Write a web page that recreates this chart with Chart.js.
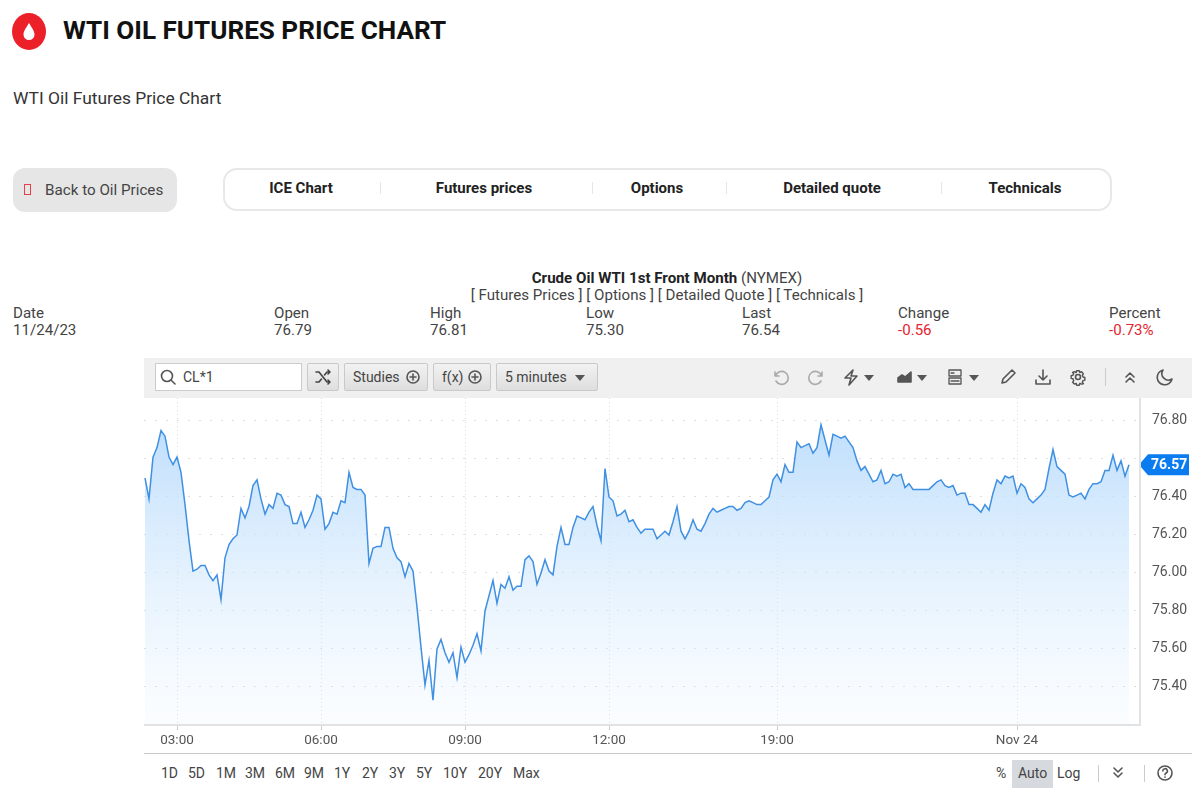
<!DOCTYPE html>
<html>
<head>
<meta charset="utf-8">
<title>WTI Oil Futures Price Chart</title>
<script src="https://cdn.jsdelivr.net/npm/chart.js@4/dist/chart.umd.min.js"></script>
<style>
  html, body { margin: 0; padding: 0; background: #fff; }
  body { width: 1200px; height: 790px; position: relative; overflow: hidden; font-family: Roboto, sans-serif; color: #333; }
  .t { position: absolute; white-space: nowrap; line-height: 1; }
  .c { transform: translateX(-50%); }
  .box { position: absolute; box-sizing: border-box; }
  .row { font-size: 15.1px; color: #444; }
  .nav { font-size: 15px; font-weight: 700; color: #222; top: 181px; }
  .sep { position: absolute; background: #e6e6e6; width: 1px; top: 182px; height: 12px; }
  .btn { position: absolute; box-sizing: border-box; top: 363px; height: 28px; border: 1px solid #c9c9c9; border-radius: 2px;
         background: linear-gradient(#f2f2f2, #dedede); font-size: 14px; color: #444; line-height: 26px; white-space: nowrap; }
  .ic { position: absolute; width: 20px; height: 20px; fill: none; stroke: #555; stroke-width: 1.6; stroke-linecap: round; stroke-linejoin: round; }
  .caret { position: absolute; width: 0; height: 0; border-left: 5px solid transparent; border-right: 5px solid transparent; border-top: 6px solid #555; top: 375px; }
  .per { font-size: 14px; color: #444; top: 766px; }
  #chart-wrap { position: absolute; left: 144px; top: 398px; width: 1048px; height: 356px; }
</style>
</head>
<body>

<svg class="box" style="left:12px;top:13px" width="34" height="38" viewBox="0 0 34 38">
  <ellipse cx="17" cy="18.5" rx="17" ry="18.5" fill="#ec2028"/>
  <path d="M17 10 C14 15 11.5 18 11.5 21.5 A5.5 5.5 0 0 0 22.5 21.5 C22.5 18 20 15 17 10 Z" fill="#fff"/>
</svg>
<div class="t" style="left:63px;top:17px;font-size:26.1px;font-weight:700;color:#111">WTI OIL FUTURES PRICE CHART</div>
<div class="t" style="left:13px;top:90px;font-size:17.4px;color:#333">WTI Oil Futures Price Chart</div>

<div class="box" style="left:13px;top:168px;width:164px;height:44px;background:#e6e6e6;border-radius:12px"></div>
<div class="box" style="left:24px;top:184px;width:7px;height:11px;border:1px solid #e4404a"></div>
<div class="t" style="left:45px;top:183px;font-size:15.2px;color:#444">Back to Oil Prices</div>

<div class="box" style="left:223px;top:168px;width:889px;height:43px;border:2px solid #e8e8e8;border-radius:14px"></div>
<div class="t c nav" style="left:301px">ICE Chart</div>
<div class="t c nav" style="left:484px">Futures prices</div>
<div class="t c nav" style="left:657px">Options</div>
<div class="t c nav" style="left:832px">Detailed quote</div>
<div class="t c nav" style="left:1025px">Technicals</div>
<div class="sep" style="left:380px"></div>
<div class="sep" style="left:592px"></div>
<div class="sep" style="left:726px"></div>
<div class="sep" style="left:941px"></div>

<div class="t c row" style="left:667px;top:271px"><b style="color:#222">Crude Oil WTI 1st Front Month</b> (NYMEX)</div>
<div class="t c row" style="left:667px;top:288px">[ Futures Prices ] [ Options ] [ Detailed Quote ] [ Technicals ]</div>

<div class="t row" style="left:13px;top:306px">Date</div>
<div class="t row" style="left:274px;top:306px">Open</div>
<div class="t row" style="left:430px;top:306px">High</div>
<div class="t row" style="left:586px;top:306px">Low</div>
<div class="t row" style="left:742px;top:306px">Last</div>
<div class="t row" style="left:898px;top:306px">Change</div>
<div class="t row" style="left:1109px;top:306px">Percent</div>
<div class="t row" style="left:13px;top:323px">11/24/23</div>
<div class="t row" style="left:274px;top:323px">76.79</div>
<div class="t row" style="left:430px;top:323px">76.81</div>
<div class="t row" style="left:586px;top:323px">75.30</div>
<div class="t row" style="left:742px;top:323px">76.54</div>
<div class="t row" style="left:898px;top:323px;color:#e4252f">-0.56</div>
<div class="t row" style="left:1109px;top:323px;color:#e4252f">-0.73%</div>

<!-- toolbar -->
<div class="box" style="left:144px;top:358px;width:1048px;height:40px;background:#f0f0f0"></div>
<div class="box" style="left:155px;top:363px;width:147px;height:28px;background:#fff;border:1px solid #ccc"></div>
<svg class="ic" style="left:158px;top:367px" viewBox="0 0 20 20"><circle cx="9" cy="9" r="5.5"/><path d="M13 13l4 4"/></svg>
<div class="t" style="left:183px;top:370px;font-size:14px;color:#444">CL*1</div>
<div class="btn" style="left:307px;width:32px"></div>
<svg class="ic" style="left:313px;top:367px;stroke:#444" viewBox="0 0 20 20"><path d="M3 5h3l8 10h3M3 15h3l2.5-3M11.5 8L14 5h3M15 3l2 2-2 2M15 13l2 2-2 2"/></svg>
<div class="btn" style="left:344px;width:84px;padding-left:8px">Studies</div>
<svg class="ic" style="left:403px;top:367px" viewBox="0 0 20 20"><circle cx="10" cy="10" r="6"/><path d="M10 7v6M7 10h6"/></svg>
<div class="btn" style="left:433px;width:58px;padding-left:8px">f(x)</div>
<svg class="ic" style="left:465px;top:367px" viewBox="0 0 20 20"><circle cx="10" cy="10" r="6"/><path d="M10 7v6M7 10h6"/></svg>
<div class="btn" style="left:496px;width:102px;padding-left:8px">5 minutes</div>
<div class="caret" style="left:575px"></div>

<svg class="ic" style="left:771px;top:367px;stroke:#aaa" viewBox="0 0 20 20"><path d="M4 5v4h4M4.5 9A6.5 6.5 0 1 1 5 14"/></svg>
<svg class="ic" style="left:806px;top:367px;stroke:#aaa" viewBox="0 0 20 20"><path d="M16 5v4h-4M15.5 9A6.5 6.5 0 1 0 15 14"/></svg>
<svg class="ic" style="left:841px;top:367px" viewBox="0 0 20 20"><path d="M12 3L4 11h6l-2 7 8-9h-6z"/></svg>
<div class="caret" style="left:864px"></div>
<svg class="ic" style="left:895px;top:367px" viewBox="0 0 20 20"><path d="M3 15V11l4-3 3 2 6-5v10z" fill="#555"/></svg>
<div class="caret" style="left:917px"></div>
<svg class="ic" style="left:945px;top:367px;stroke-width:1.3" viewBox="0 0 20 20"><rect x="4" y="3" width="12" height="6"/><rect x="4" y="11" width="12" height="6"/><path d="M6 6h3M6 14h8"/></svg>
<div class="caret" style="left:969px"></div>
<svg class="ic" style="left:998px;top:367px" viewBox="0 0 20 20"><path d="M4 16l1-4L14 3l3 3-9 9z"/></svg>
<svg class="ic" style="left:1033px;top:367px" viewBox="0 0 20 20"><path d="M10 3v9M6 9l4 4 4-4M3 13v4h14v-4"/></svg>
<svg class="ic" style="left:1068px;top:367px" viewBox="0 0 20 20"><circle cx="10" cy="10" r="2.5"/><path d="M8.5 3h3l.5 2 2-.8 2 2.3-1.2 1.7.8 1.8 2 .5v3l-2 .5-.8 1.8 1.2 1.7-2 .4-2-.8-.5 2h-3l-.5-2-2 .8-2-2 1.2-1.7L4.400 12 2.400 11.500v-3l2-.5.8-1.800L4 5l2-1 2 1z" transform="translate(1 1) scale(.9)"/></svg>
<div class="box" style="left:1105px;top:368px;width:1px;height:18px;background:#ccc"></div>
<svg class="ic" style="left:1120px;top:367px" viewBox="0 0 20 20"><path d="M6 10l4-4 4 4M6 15l4-4 4 4"/></svg>
<svg class="ic" style="left:1155px;top:367px" viewBox="0 0 20 20"><path d="M8 3a7.500 7.500 0 1 0 9 9A6.500 6.500 0 0 1 8 3z"/></svg>

<div id="chart-wrap"><canvas id="chart" width="1048" height="356"></canvas></div>

<!-- range row -->
<div class="t per" style="left:161px">1D</div>
<div class="t per" style="left:188px">5D</div>
<div class="t per" style="left:216px">1M</div>
<div class="t per" style="left:245px">3M</div>
<div class="t per" style="left:275px">6M</div>
<div class="t per" style="left:304px">9M</div>
<div class="t per" style="left:334px">1Y</div>
<div class="t per" style="left:362px">2Y</div>
<div class="t per" style="left:389px">3Y</div>
<div class="t per" style="left:416px">5Y</div>
<div class="t per" style="left:443px">10Y</div>
<div class="t per" style="left:478px">20Y</div>
<div class="t per" style="left:513px">Max</div>
<div class="t per" style="left:996px">%</div>
<div class="box" style="left:1012px;top:760px;width:41px;height:28px;background:#d6d9dd"></div>
<div class="t per" style="left:1018px">Auto</div>
<div class="t per" style="left:1057px">Log</div>
<div class="box" style="left:1098px;top:765px;width:1px;height:17px;background:#ccc"></div>
<svg class="ic" style="left:1108px;top:763px" viewBox="0 0 20 20"><path d="M6 5l4 4 4-4M6 10l4 4 4-4"/></svg>
<div class="box" style="left:1144px;top:765px;width:1px;height:17px;background:#ccc"></div>
<svg class="ic" style="left:1155px;top:763px" viewBox="0 0 20 20"><circle cx="10" cy="10" r="7"/><path d="M7.800 8a2.300 2.300 0 1 1 3.400 2c-.8.500-1.200 1-1.200 1.800M10 14v.3"/></svg>

<script>
// 5 minute closes
const prices = [
  76.50, 76.39, 76.61, 76.66, 76.75, 76.72, 76.61, 76.57, 76.61, 76.53,
  76.36, 76.17, 76.01, 76.02, 76.04, 76.04, 75.99, 75.96, 75.99, 75.86,
  76.08, 76.15, 76.18, 76.20, 76.34, 76.29, 76.35, 76.46, 76.49, 76.39,
  76.31, 76.36, 76.34, 76.42, 76.41, 76.36, 76.35, 76.26, 76.26, 76.32,
  76.24, 76.28, 76.33, 76.41, 76.39, 76.23, 76.26, 76.32, 76.31, 76.38,
  76.37, 76.53, 76.45, 76.44, 76.44, 76.41, 76.05, 76.13, 76.14, 76.14,
  76.24, 76.24, 76.13, 76.08, 76.06, 75.98, 76.05, 76.01, 75.82, 75.61,
  75.41, 75.54, 75.33, 75.60, 75.65, 75.58, 75.53, 75.58, 75.45, 75.61,
  75.53, 75.57, 75.62, 75.68, 75.59, 75.80, 75.88, 75.96, 75.84, 75.94,
  75.92, 75.98, 75.91, 75.93, 75.93, 76.07, 76.09, 76.06, 75.94, 76.00,
  76.07, 76.01, 75.99, 76.14, 76.24, 76.15, 76.15, 76.24, 76.30, 76.29,
  76.28, 76.32, 76.35, 76.25, 76.17, 76.55, 76.40, 76.38, 76.30, 76.31,
  76.33, 76.27, 76.28, 76.24, 76.21, 76.23, 76.23, 76.23, 76.18, 76.20,
  76.22, 76.20, 76.27, 76.35, 76.22, 76.18, 76.22, 76.28, 76.23, 76.22,
  76.26, 76.31, 76.34, 76.32, 76.33, 76.34, 76.35, 76.35, 76.33, 76.34,
  76.37, 76.38, 76.37, 76.36, 76.36, 76.38, 76.40, 76.49, 76.52, 76.48,
  76.57, 76.53, 76.53, 76.69, 76.66, 76.67, 76.68, 76.63, 76.66, 76.78,
  76.70, 76.62, 76.73, 76.72, 76.71, 76.72, 76.69, 76.66, 76.59, 76.54,
  76.56, 76.52, 76.48, 76.49, 76.54, 76.47, 76.48, 76.52, 76.51, 76.52,
  76.45, 76.47, 76.44, 76.44, 76.44, 76.44, 76.44, 76.46, 76.48, 76.49,
  76.46, 76.45, 76.46, 76.41, 76.42, 76.42, 76.36, 76.36, 76.34, 76.32,
  76.36, 76.33, 76.42, 76.49, 76.47, 76.51, 76.50, 76.51, 76.42, 76.47,
  76.45, 76.39, 76.37, 76.39, 76.41, 76.44, 76.55, 76.65, 76.56, 76.54,
  76.52, 76.41, 76.40, 76.41, 76.42, 76.39, 76.44, 76.47, 76.47, 76.48,
  76.54, 76.54, 76.62, 76.54, 76.59, 76.51, 76.57
];
// bar number of each time label
const timeTicks = [8, 44, 80, 116, 158, 218];
const timeLabels = ['03:00', '06:00', '09:00', '12:00', '19:00', 'Nov 24'];
const priceTicks = [75.4, 75.6, 75.8, 76.0, 76.2, 76.4, 76.6, 76.8];

const lastPrice = prices[prices.length - 1];

const lastPriceTag = {
  id: 'lastPriceTag',
  afterDraw(chart) {
    const { ctx, chartArea } = chart;
    const y = chart.scales.y.getPixelForValue(lastPrice);
    const x = chartArea.right;
    ctx.save();
    ctx.fillStyle = '#0a7cf0';
    ctx.beginPath();
    ctx.moveTo(x - 1, y);
    ctx.lineTo(x + 8, y - 10.5);
    ctx.lineTo(x + 49, y - 10.5);
    ctx.lineTo(x + 49, y + 10.5);
    ctx.lineTo(x + 8, y + 10.5);
    ctx.closePath();
    ctx.fill();
    ctx.fillStyle = '#fff';
    ctx.font = 'bold 14px Roboto';
    ctx.textAlign = 'left';
    ctx.textBaseline = 'middle';
    ctx.fillText(lastPrice.toFixed(2), x + 11, y + 0.5);
    ctx.restore();
  }
};

// the plot has to fill the canvas edge to edge, labels may stick out
function noScalePadding(scale) {
  scale.paddingTop = 0;
  scale.paddingBottom = 0;
  scale.paddingLeft = 0;
  scale.paddingRight = 0;
}

const ctx = document.getElementById('chart').getContext('2d');
const fade = ctx.createLinearGradient(0, 22, 0, 327);
fade.addColorStop(0, 'rgba(186, 220, 252, 0.95)');
fade.addColorStop(1, 'rgba(225, 240, 254, 0.15)');

new Chart(ctx, {
  type: 'line',
  data: {
    datasets: [{
      data: prices.map((p, i) => ({ x: i, y: p })),
      borderColor: '#3f90e2',
      borderWidth: 1.5,
      pointRadius: 0,
      tension: 0,
      fill: 'start',
      backgroundColor: fade
    }]
  },
  plugins: [lastPriceTag],
  options: {
    responsive: false,
    animation: false,
    layout: { padding: 0, autoPadding: false },
    plugins: { legend: { display: false }, tooltip: { enabled: false } },
    scales: {
      x: {
        type: 'linear',
        min: -0.25,
        max: 248.75,
        afterBuildTicks(scale) { scale.ticks = timeTicks.map(v => ({ value: v })); },
        afterFit(scale) { scale.height = 29; noScalePadding(scale); },
        grid: { color: '#dcdcdc', tickColor: '#cfcfcf', tickLength: 5, drawOnChartArea: true },
        border: { color: '#dddddd', width: 2, dash: [1, 3] },
        ticks: {
          maxRotation: 0,
          autoSkip: false,
          padding: 3,
          color: '#555',
          font: { family: 'Roboto', size: 13.5 },
          callback: v => timeLabels[timeTicks.indexOf(v)]
        }
      },
      y: {
        position: 'right',
        min: 75.2,
        max: 76.921,
        afterBuildTicks(scale) { scale.ticks = priceTicks.map(v => ({ value: v })); },
        afterFit(scale) { scale.width = 52; noScalePadding(scale); },
        grid: { color: '#dedede', drawTicks: false },
        border: { color: '#dddddd', width: 2, dash: [2, 9] },
        ticks: {
          padding: 12,
          color: '#555',
          font: { family: 'Roboto', size: 14 },
          // the price tag sits on top of the nearest label
          callback: v => Math.abs(v - lastPrice) < 0.06 ? '' : v.toFixed(2)
        }
      }
    }
  }
});
</script>
<div class="box" style="left:144px;top:753px;width:1048px;height:1px;background:#c8c8c8"></div>
<div class="box" style="left:144px;top:724px;width:996px;height:2px;background:#e2e2e2"></div>
<div class="box" style="left:1139px;top:398px;width:2px;height:328px;background:#e2e2e2"></div>
</body>
</html>
